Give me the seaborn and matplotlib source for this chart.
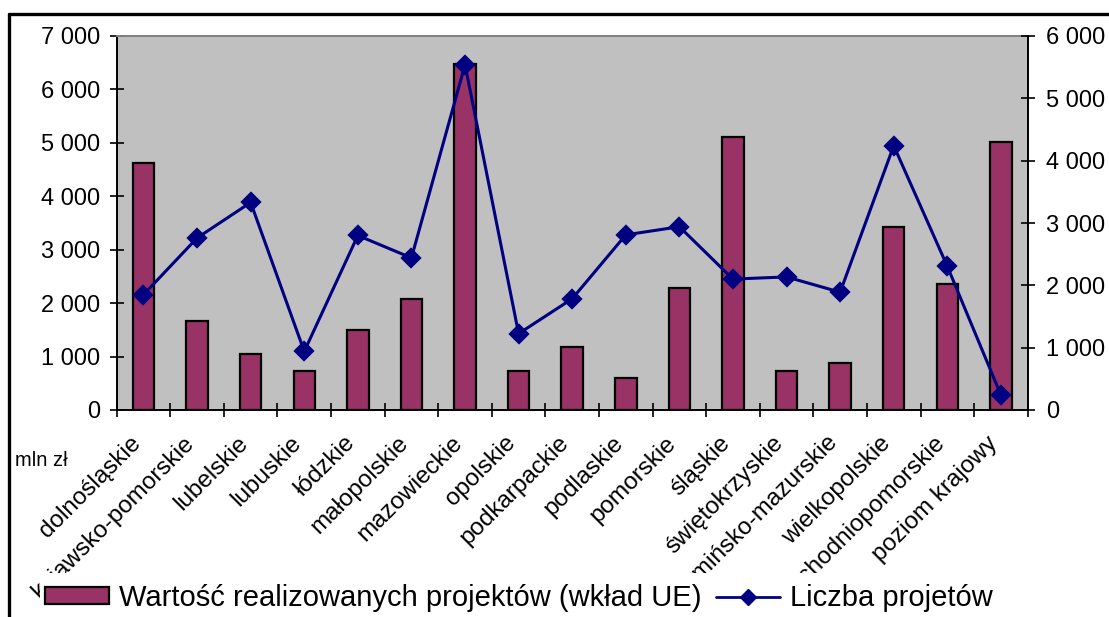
import numpy as np
import pandas as pd
import matplotlib
matplotlib.use("Agg")
import matplotlib.pyplot as plt
import seaborn as sns
from matplotlib.lines import Line2D
from matplotlib.patches import Patch, Rectangle
from matplotlib.ticker import FuncFormatter, MultipleLocator

# Regions (voivodeships) plus the national-level programme
regions = [
    "dolnośląskie", "kujawsko-pomorskie", "lubelskie", "lubuskie", "łódzkie",
    "małopolskie", "mazowieckie", "opolskie", "podkarpackie", "podlaskie",
    "pomorskie", "śląskie", "świętokrzyskie", "warmińsko-mazurskie",
    "wielkopolskie", "zachodniopomorskie", "poziom krajowy",
]
# Value of projects being implemented (EU contribution), mln zł
value_mln = [4620, 1670, 1050, 730, 1500, 2080, 6470, 730, 1170, 605,
             2280, 5110, 730, 885, 3425, 2360, 5020]
# Number of projects
project_count = [1850, 2760, 3330, 940, 2800, 2440, 5540, 1225, 1785, 2810,
                 2940, 2100, 2135, 1890, 4240, 2305, 240]

bar_label = "Wartość realizowanych projektów (wkład UE)"
line_label = "Liczba projetów"
unit_label = "mln zł"

BAR_COLOR = "#993366"
LINE_COLOR = "#000080"
PLOT_BG = "#C0C0C0"

sns.set_theme(style="ticks")
plt.rcParams["font.family"] = ["Liberation Sans", "DejaVu Sans"]
plt.rcParams["text.color"] = "black"
plt.rcParams["xtick.color"] = "black"
plt.rcParams["ytick.color"] = "black"
plt.rcParams["axes.labelcolor"] = "black"

df = pd.DataFrame({"region": regions, "value": value_mln, "count": project_count})
n = len(regions)

W, H = 1109, 617
fig = plt.figure(figsize=(W / 100, H / 100), dpi=100)
fig.patch.set_facecolor("white")

ax = fig.add_axes([116.7 / W, 1 - 410 / H, (1027.7 - 116.7) / W, (410 - 36) / H])
ax.set_facecolor(PLOT_BG)

sns.barplot(data=df, x="region", y="value", ax=ax, color=BAR_COLOR,
            saturation=1, width=0.4, edgecolor="black", linewidth=1.6,
            errorbar=None, zorder=2)

ax2 = ax.twinx()
sns.pointplot(data=df, x="region", y="count", ax=ax2, color=LINE_COLOR,
              markers="D", linestyles="-", errorbar=None,
              markersize=9.5, linewidth=2.2)

thousands = FuncFormatter(lambda v, _: f"{int(round(v)):,}".replace(",", " "))

ax.set_ylim(0, 7000)
ax.yaxis.set_major_locator(MultipleLocator(1000))
ax.yaxis.set_major_formatter(thousands)
ax2.set_ylim(0, 6000)
ax2.yaxis.set_major_locator(MultipleLocator(1000))
ax2.yaxis.set_major_formatter(thousands)

# Category axis: tick marks between categories, slanted names under each slot
ax.set_xlim(-0.5, n - 0.5)
ax.set_xticks(np.arange(n))
ax.set_xticklabels([])
ax.set_xticks(np.arange(-0.5, n), minor=True)
ax.tick_params(axis="x", which="major", length=0, bottom=True)
ax.tick_params(axis="x", which="minor", direction="inout", length=10,
               width=1.2, color="black", bottom=True)
for i, name in enumerate(regions):
    ax.annotate(name, xy=(i, 0), xycoords=ax.get_xaxis_transform(),
                xytext=(-14, -22), textcoords="offset pixels",
                rotation=45, ha="right", va="top", rotation_mode="anchor",
                fontsize=17.5, color="black", annotation_clip=False)

ax.tick_params(axis="y", which="major", direction="inout", length=10,
               width=1.2, color="black", labelcolor="black", pad=7,
               labelsize=17, left=True)
ax2.tick_params(axis="y", which="major", direction="inout", length=10,
                width=1.2, color="black", labelcolor="black", pad=8,
                labelsize=17, right=True)

ax.set_xlabel("")
ax.set_ylabel("")
ax2.set_ylabel("")

for side in ("left", "bottom"):
    ax.spines[side].set_color("black")
    ax.spines[side].set_linewidth(1.4)
ax.spines["top"].set_visible(True)
ax.spines["top"].set_color("#808080")
ax.spines["top"].set_linewidth(1.4)
ax.spines["right"].set_visible(False)
for side in ("left", "bottom", "top"):
    ax2.spines[side].set_visible(False)
ax2.spines["right"].set_visible(True)
ax2.spines["right"].set_color("black")
ax2.spines["right"].set_linewidth(1.4)

fig.text(15 / W, 1 - 460 / H, unit_label, fontsize=14.5, ha="left",
         va="center", color="black")

# White legend area sits above the long category labels
fig.add_artist(Rectangle((40 / W, 0), (1012 - 40) / W, 1 - 573 / H,
                         transform=fig.transFigure, facecolor="white",
                         edgecolor="none", zorder=5))

handles = [
    Patch(facecolor=BAR_COLOR, edgecolor="black", linewidth=1.6, label=bar_label),
    Line2D([0], [0], color=LINE_COLOR, lw=2, marker="D", markersize=8,
           label=line_label),
]
leg = fig.legend(handles=handles, loc="center", bbox_to_anchor=(0.468, 1 - 598 / H),
                 ncol=2, frameon=False, fontsize=21, handlelength=2.2,
                 handleheight=0.5, columnspacing=0.5, handletextpad=0.33,
                 labelcolor="black")
leg.set_zorder(6)

# Chart frame along the top and left edges
fig.add_artist(Line2D([9 / W, 9 / W], [0, 1 - 14 / H], transform=fig.transFigure,
                      color="black", lw=2.4, zorder=7))
fig.add_artist(Line2D([9 / W, 1], [1 - 14 / H, 1 - 14 / H], transform=fig.transFigure,
                      color="black", lw=2.4, zorder=7))

fig.savefig("out.png", dpi=100, facecolor="white")
